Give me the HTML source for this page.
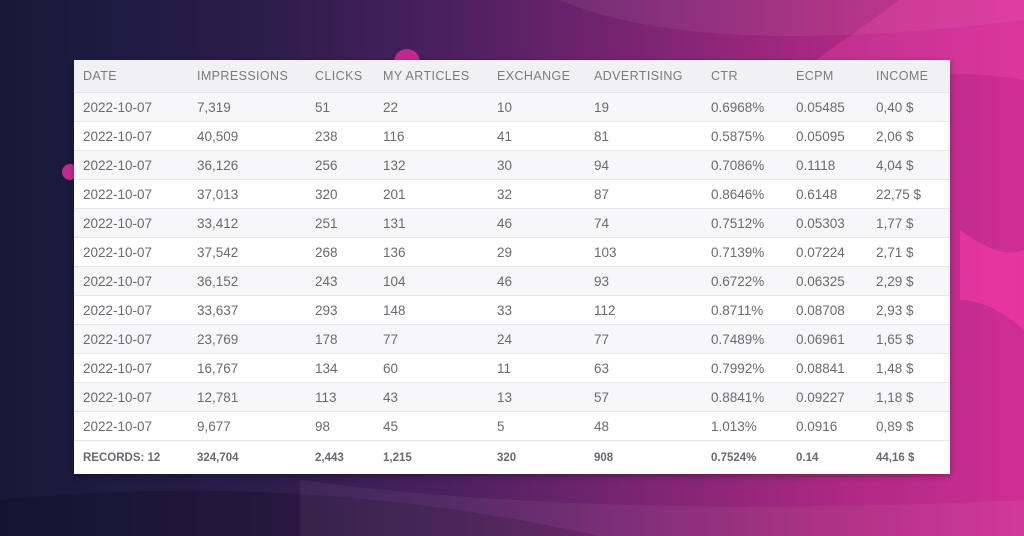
<!DOCTYPE html>
<html><head><meta charset="utf-8"><style>
body{margin:0;width:1024px;height:536px;overflow:hidden;font-family:"Liberation Sans",sans-serif;position:relative;
background:linear-gradient(90deg,#16193a 0%,#2a1d4a 25%,#4e2060 45%,#7a2472 62%,#a8287f 80%,#d02e95 100%);}
.shape{position:absolute;}
table{position:absolute;left:74px;top:60px;width:876px;border-collapse:collapse;background:#fff;table-layout:fixed;box-shadow:0 2px 6px rgba(0,0,0,.3)}
td,th{padding:0 0 0 9px;text-align:left;color:#6a6a72;font-size:13.5px;font-weight:normal;white-space:nowrap;border-bottom:1px solid #e6e6ea}
th{height:32px;font-size:12.5px;letter-spacing:.4px;color:#7a7a82;background:#f1f1f4}
td{height:28px}
tr.odd td{background:#f7f7f9}
tr.foot td{height:33px;font-size:11.5px;font-weight:bold;color:#6a6a72;border-bottom:none}
</style></head><body>
<svg class="shape" width="1024" height="536" style="left:0;top:0">
<path d="M560 0 Q700 60 1024 20 L1024 0 Z" fill="rgba(255,255,255,0.06)"/>
<path d="M760 100 Q900 60 1024 80 L1024 0 L900 0 Z" fill="rgba(255,80,180,0.25)"/>
<path d="M960 230 Q1000 260 1024 250 L1024 330 Q990 300 960 300 Z" fill="rgba(255,60,170,0.5)"/>
<path d="M0 500 Q300 470 600 536 L0 536 Z" fill="rgba(0,0,0,0.15)"/>
<path d="M300 480 Q600 520 1024 500 L1024 536 L300 536 Z" fill="rgba(255,255,255,0.05)"/>
<circle cx="407" cy="62" r="13" fill="#c02a8c"/>
<circle cx="70" cy="172" r="8" fill="#c02a8c"/>
</svg>
<table>
<colgroup><col style="width:114px"><col style="width:118px"><col style="width:68px"><col style="width:114px"><col style="width:97px"><col style="width:117px"><col style="width:85px"><col style="width:80px"><col></colgroup>
<tr><th>DATE</th><th>IMPRESSIONS</th><th>CLICKS</th><th>MY ARTICLES</th><th>EXCHANGE</th><th>ADVERTISING</th><th>CTR</th><th>ECPM</th><th>INCOME</th></tr>
<tr class="odd"><td>2022-10-07</td><td>7,319</td><td>51</td><td>22</td><td>10</td><td>19</td><td>0.6968%</td><td>0.05485</td><td>0,40 $</td></tr>
<tr><td>2022-10-07</td><td>40,509</td><td>238</td><td>116</td><td>41</td><td>81</td><td>0.5875%</td><td>0.05095</td><td>2,06 $</td></tr>
<tr class="odd"><td>2022-10-07</td><td>36,126</td><td>256</td><td>132</td><td>30</td><td>94</td><td>0.7086%</td><td>0.1118</td><td>4,04 $</td></tr>
<tr><td>2022-10-07</td><td>37,013</td><td>320</td><td>201</td><td>32</td><td>87</td><td>0.8646%</td><td>0.6148</td><td>22,75 $</td></tr>
<tr class="odd"><td>2022-10-07</td><td>33,412</td><td>251</td><td>131</td><td>46</td><td>74</td><td>0.7512%</td><td>0.05303</td><td>1,77 $</td></tr>
<tr><td>2022-10-07</td><td>37,542</td><td>268</td><td>136</td><td>29</td><td>103</td><td>0.7139%</td><td>0.07224</td><td>2,71 $</td></tr>
<tr class="odd"><td>2022-10-07</td><td>36,152</td><td>243</td><td>104</td><td>46</td><td>93</td><td>0.6722%</td><td>0.06325</td><td>2,29 $</td></tr>
<tr><td>2022-10-07</td><td>33,637</td><td>293</td><td>148</td><td>33</td><td>112</td><td>0.8711%</td><td>0.08708</td><td>2,93 $</td></tr>
<tr class="odd"><td>2022-10-07</td><td>23,769</td><td>178</td><td>77</td><td>24</td><td>77</td><td>0.7489%</td><td>0.06961</td><td>1,65 $</td></tr>
<tr><td>2022-10-07</td><td>16,767</td><td>134</td><td>60</td><td>11</td><td>63</td><td>0.7992%</td><td>0.08841</td><td>1,48 $</td></tr>
<tr class="odd"><td>2022-10-07</td><td>12,781</td><td>113</td><td>43</td><td>13</td><td>57</td><td>0.8841%</td><td>0.09227</td><td>1,18 $</td></tr>
<tr><td>2022-10-07</td><td>9,677</td><td>98</td><td>45</td><td>5</td><td>48</td><td>1.013%</td><td>0.0916</td><td>0,89 $</td></tr>
<tr class="foot"><td>RECORDS: 12</td><td>324,704</td><td>2,443</td><td>1,215</td><td>320</td><td>908</td><td>0.7524%</td><td>0.14</td><td>44,16 $</td></tr>
</table>
</body></html>
